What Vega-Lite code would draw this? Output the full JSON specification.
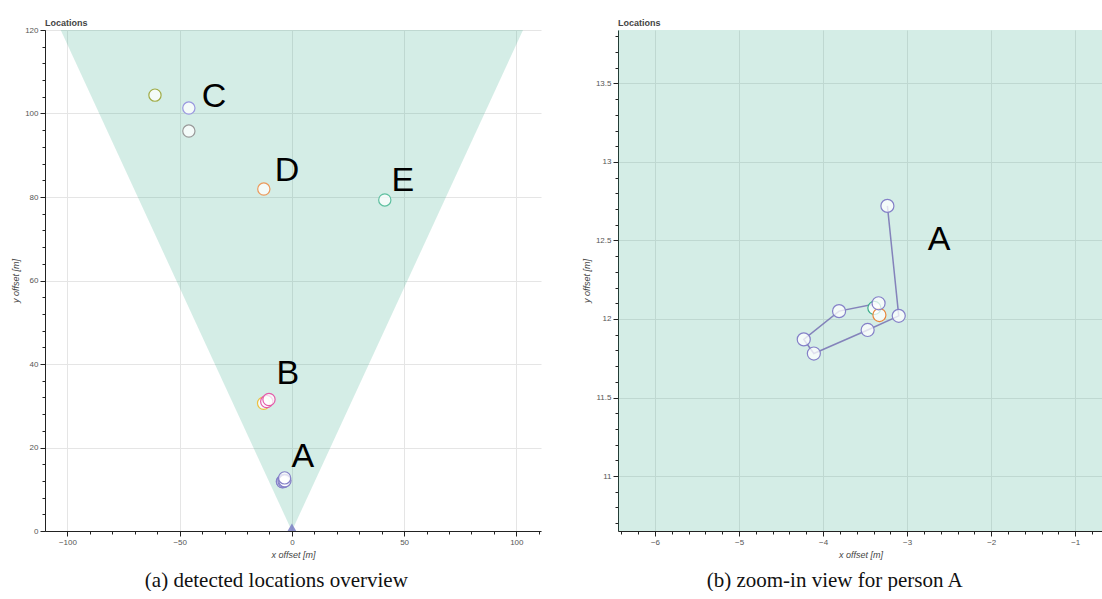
{
  "$schema": "https://vega.github.io/schema/vega-lite/v6.json",
  "background": "white",
  "padding": {"left": 11, "top": 19, "right": 0, "bottom": 0},
  "datasets": {
    "cone": [
      {"y": 0, "xl": 0, "xr": 0},
      {"y": 120, "xl": -103, "xr": 103}
    ],
    "sensor": [{"x": 0, "y": 0}],
    "overview": [
      {"x": -61, "y": 104.4, "track": "C1"},
      {"x": -45.9, "y": 101.3, "track": "C2"},
      {"x": -45.9, "y": 95.8, "track": "C3"},
      {"x": -12.5, "y": 81.9, "track": "D"},
      {"x": 41.4, "y": 79.3, "track": "E"},
      {"x": -12.6, "y": 30.6, "track": "B1"},
      {"x": -11.2, "y": 31.0, "track": "B2"},
      {"x": -10.2, "y": 31.5, "track": "B2"}
    ],
    "extraA": [
      {"x": -3.39, "y": 12.07, "track": "A3"},
      {"x": -3.33, "y": 12.025, "track": "A2"}
    ],
    "pathA": [
      {"x": -3.34, "y": 12.10, "step": 1, "track": "A"},
      {"x": -3.81, "y": 12.05, "step": 2, "track": "A"},
      {"x": -4.23, "y": 11.87, "step": 3, "track": "A"},
      {"x": -4.11, "y": 11.78, "step": 4, "track": "A"},
      {"x": -3.47, "y": 11.93, "step": 5, "track": "A"},
      {"x": -3.10, "y": 12.02, "step": 6, "track": "A"},
      {"x": -3.235, "y": 12.72, "step": 7, "track": "A"}
    ],
    "labelsOverview": [
      {"x": -34.7, "y": 104.0, "label": "C"},
      {"x": -2.2, "y": 86.2, "label": "D"},
      {"x": 49.4, "y": 83.8, "label": "E"},
      {"x": -1.8, "y": 37.6, "label": "B"},
      {"x": 4.9, "y": 17.7, "label": "A"}
    ],
    "labelsZoom": [
      {"x": -2.62, "y": 12.5, "label": "A"}
    ]
  },
  "config": {
    "view": {"stroke": null},
    "axis": {
      "labelFont": "Liberation Sans",
      "labelFontSize": 8,
      "labelColor": "#555",
      "titleFont": "Liberation Sans",
      "titleFontSize": 9,
      "titleFontStyle": "italic",
      "titleFontWeight": "normal",
      "titleColor": "#444",
      "domainColor": "#222",
      "tickColor": "#222",
      "gridColor": "#e5e5e5",
      "tickSize": 5,
      "labelPadding": 2,
      "titlePadding": 4
    },
    "title": {"font": "Liberation Sans", "fontSize": 9, "fontWeight": "bold", "color": "#444"},
    "concat": {"spacing": 41}
  },
  "hconcat": [
    {
      "title": {"text": "(a) detected locations overview", "orient": "bottom", "anchor": "middle", "font": "Liberation Serif", "fontSize": 21, "fontWeight": "normal", "color": "#111", "offset": 11},
      "vconcat": [
        {
          "width": 496,
          "height": 501,
          "title": {"text": "Locations", "anchor": "start", "frame": "group", "offset": -2},
          "resolve": {"axis": {"x": "independent", "y": "independent"}},
          "layer": [
            {
              "data": {"name": "cone"},
              "mark": {"type": "area", "orient": "horizontal", "color": "#28a582", "opacity": 0.2, "clip": true},
              "encoding": {
                "y": {"field": "y", "type": "quantitative", "scale": {"domain": [0, 120], "nice": false, "zero": false},
                      "axis": {"title": "y offset [m]", "values": [0, 20, 40, 60, 80, 100, 120], "orient": "left"}},
                "x": {"field": "xl", "type": "quantitative", "scale": {"domain": [-110, 111], "nice": false, "zero": false},
                      "axis": {"title": "x offset [m]", "values": [-100, -50, 0, 50, 100], "orient": "bottom"}},
                "x2": {"field": "xr"}
              }
            },
            {
              "data": {"name": "sensor"},
              "mark": {"type": "point", "shape": "triangle-up", "filled": true, "color": "#7b7fc4", "opacity": 0.85, "size": 300, "clip": true},
              "encoding": {
                "x": {"field": "x", "type": "quantitative", "axis": {"orient": "bottom", "labels": false, "grid": false, "domain": false, "title": null, "tickSize": 3,
                      "values": [-100, -90, -80, -70, -60, -50, -40, -30, -20, -10, 0, 10, 20, 30, 40, 50, 60, 70, 80, 90, 100, 110]}},
                "y": {"field": "y", "type": "quantitative", "axis": {"orient": "left", "labels": false, "grid": false, "domain": false, "title": null, "tickSize": 3,
                      "values": [0, 4, 8, 12, 16, 20, 24, 28, 32, 36, 40, 44, 48, 52, 56, 60, 64, 68, 72, 76, 80, 84, 88, 92, 96, 100, 104, 108, 112, 116, 120]}}
              }
            },
            {
              "data": {"name": "extraA"},
              "mark": {"type": "point", "shape": "circle", "filled": true, "fill": "white", "fillOpacity": 0.75, "strokeWidth": 1.2, "size": 150},
              "encoding": {
                "x": {"field": "x", "type": "quantitative", "axis": null},
                "y": {"field": "y", "type": "quantitative", "axis": null},
                "stroke": {"field": "track", "type": "nominal", "legend": null,
                           "scale": {"domain": ["A", "A2", "A3", "B1", "B2", "C1", "C2", "C3", "D", "E"],
                                     "range": ["#8480c8", "#e8863a", "#3aae8a", "#ecc040", "#e45aa8", "#a0ab45", "#9a98e0", "#9a9a9a", "#ec9a5c", "#5ec0a0"]}}
              }
            },
            {
              "data": {"name": "pathA"},
              "mark": {"type": "point", "shape": "circle", "filled": true, "fill": "white", "fillOpacity": 0.75, "strokeWidth": 1.2, "size": 150},
              "encoding": {
                "x": {"field": "x", "type": "quantitative", "axis": null},
                "y": {"field": "y", "type": "quantitative", "axis": null},
                "stroke": {"field": "track", "type": "nominal", "legend": null}
              }
            },
            {
              "data": {"name": "overview"},
              "mark": {"type": "point", "shape": "circle", "filled": true, "fill": "white", "fillOpacity": 0.75, "strokeWidth": 1.2, "size": 150},
              "encoding": {
                "x": {"field": "x", "type": "quantitative", "axis": null},
                "y": {"field": "y", "type": "quantitative", "axis": null},
                "stroke": {"field": "track", "type": "nominal", "legend": null}
              }
            },
            {
              "data": {"name": "labelsOverview"},
              "mark": {"type": "text", "font": "Liberation Sans", "fontSize": 34, "color": "black", "align": "center", "baseline": "middle"},
              "encoding": {
                "x": {"field": "x", "type": "quantitative", "axis": null},
                "y": {"field": "y", "type": "quantitative", "axis": null},
                "text": {"field": "label"}
              }
            }
          ]
        }
      ]
    },
    {
      "title": {"text": "(b) zoom-in view for person A", "orient": "bottom", "anchor": "middle", "font": "Liberation Serif", "fontSize": 21, "fontWeight": "normal", "color": "#111", "offset": 11, "dx": -8},
      "vconcat": [
        {
          "width": 485,
          "height": 501,
          "title": {"text": "Locations", "anchor": "start", "frame": "group", "offset": 2},
          "resolve": {"axis": {"x": "independent", "y": "independent"}},
          "layer": [
            {
              "data": {"name": "cone"},
              "mark": {"type": "area", "orient": "horizontal", "color": "#28a582", "opacity": 0.2, "clip": true},
              "encoding": {
                "y": {"field": "y", "type": "quantitative", "scale": {"domain": [10.65, 13.84], "nice": false, "zero": false},
                      "axis": {"title": "y offset [m]", "values": [11, 11.5, 12, 12.5, 13, 13.5], "format": "~g", "orient": "left"}},
                "x": {"field": "xl", "type": "quantitative", "scale": {"domain": [-6.44, -0.67], "nice": false, "zero": false},
                      "axis": {"title": "x offset [m]", "values": [-6, -5, -4, -3, -2, -1], "format": "~g", "orient": "bottom"}},
                "x2": {"field": "xr"}
              }
            },
            {
              "data": {"name": "pathA"},
              "mark": {"type": "line", "color": "#7570b3", "strokeWidth": 1.5, "opacity": 0.85},
              "encoding": {
                "x": {"field": "x", "type": "quantitative", "axis": {"orient": "bottom", "labels": false, "grid": false, "domain": false, "title": null, "tickSize": 3,
                      "values": [-6.4, -6.2, -6, -5.8, -5.6, -5.4, -5.2, -5, -4.8, -4.6, -4.4, -4.2, -4, -3.8, -3.6, -3.4, -3.2, -3, -2.8, -2.6, -2.4, -2.2, -2, -1.8, -1.6, -1.4, -1.2, -1, -0.8]}},
                "y": {"field": "y", "type": "quantitative", "axis": {"orient": "left", "labels": false, "grid": false, "domain": false, "title": null, "tickSize": 3,
                      "values": [10.7, 10.8, 10.9, 11, 11.1, 11.2, 11.3, 11.4, 11.5, 11.6, 11.7, 11.8, 11.9, 12, 12.1, 12.2, 12.3, 12.4, 12.5, 12.6, 12.7, 12.8, 12.9, 13, 13.1, 13.2, 13.3, 13.4, 13.5, 13.6, 13.7, 13.8]}},
                "order": {"field": "step", "type": "quantitative"}
              }
            },
            {
              "data": {"name": "extraA"},
              "mark": {"type": "point", "shape": "circle", "filled": true, "fill": "white", "fillOpacity": 0.75, "strokeWidth": 1.2, "size": 170},
              "encoding": {
                "x": {"field": "x", "type": "quantitative", "axis": null},
                "y": {"field": "y", "type": "quantitative", "axis": null},
                "stroke": {"field": "track", "type": "nominal", "legend": null,
                           "scale": {"domain": ["A", "A2", "A3", "B1", "B2", "C1", "C2", "C3", "D", "E"],
                                     "range": ["#8480c8", "#e8863a", "#3aae8a", "#ecc040", "#e45aa8", "#a0ab45", "#9a98e0", "#9a9a9a", "#ec9a5c", "#5ec0a0"]}}
              }
            },
            {
              "data": {"name": "pathA"},
              "mark": {"type": "point", "shape": "circle", "filled": true, "fill": "white", "fillOpacity": 0.75, "strokeWidth": 1.2, "size": 170},
              "encoding": {
                "x": {"field": "x", "type": "quantitative", "axis": null},
                "y": {"field": "y", "type": "quantitative", "axis": null},
                "stroke": {"field": "track", "type": "nominal", "legend": null}
              }
            },
            {
              "data": {"name": "labelsZoom"},
              "mark": {"type": "text", "font": "Liberation Sans", "fontSize": 34, "color": "black", "align": "center", "baseline": "middle"},
              "encoding": {
                "x": {"field": "x", "type": "quantitative", "axis": null},
                "y": {"field": "y", "type": "quantitative", "axis": null},
                "text": {"field": "label"}
              }
            }
          ]
        }
      ]
    }
  ]
}
